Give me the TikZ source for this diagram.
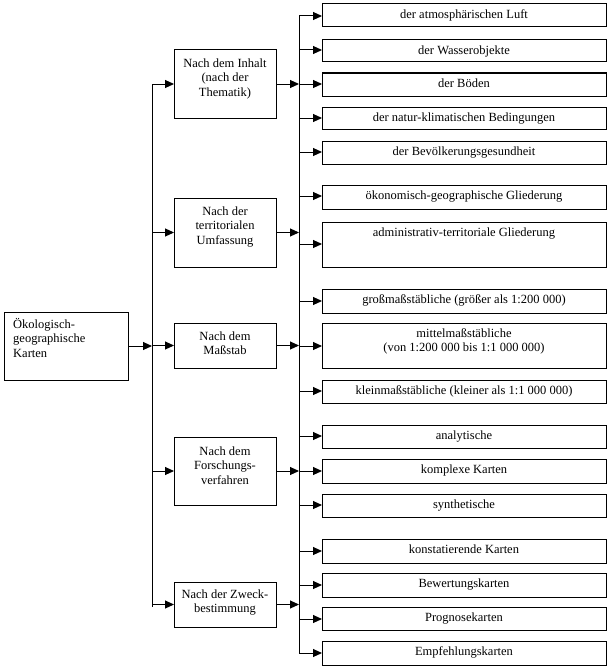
\documentclass[tikz,border=0pt]{standalone}
\usepackage{fontspec}
\setmainfont{Liberation Serif}
\usetikzlibrary{arrows.meta}
\begin{document}
\begin{tikzpicture}[x=1pt,y=-1pt,
  box/.style={draw,line width=1pt,inner sep=0pt,outer sep=0pt,anchor=north west},
  txt/.style={inner sep=0pt,anchor=north,align=center,font=\fontsize{12.5}{14.5}\selectfont},
  ltxt/.style={inner sep=0pt,anchor=north west,align=left,font=\fontsize{12.5}{14.5}\selectfont},
  bus/.style={line width=1pt},
  arr/.style={line width=1pt,-{Triangle[length=9pt,width=8pt]}},
]
\useasboundingbox (0,0) rectangle (611,669);
% left box
\node[box,minimum width=124pt,minimum height=68pt] (L) at (4,312) {};
\node[ltxt] (Lt) at (13,318) {\strut Ökologisch-\\geographische\\Karten};
% middle boxes
\foreach \n/\y/\h in {M1/50/68,M2/198/69,M3/323/45,M4/437/68,M5/582/45}{
  \node[box,minimum width=102pt,minimum height=\h pt] (\n) at (174,\y) {};
}
\node[txt] (M1t) at (225,50+17-10.15) {\strut Nach dem Inhalt\\(nach der\\Thematik)};
\node[txt] (M2t) at (225,198+17-10.15) {\strut Nach der\\territorialen\\Umfassung};
\node[txt] (M3t) at (225,323+17-10.15) {\strut Nach dem\\Maßstab};
\node[txt] (M4t) at (225,437+18-10.15) {\strut Nach dem\\Forschungs-\\verfahren};
\node[txt] (M5t) at (225,582+16-10.15) {\strut Nach der Zweck-\\bestimmung};
% right boxes
\foreach \n/\y/\h/\t in {
  R1/4/23/{der atmosphärischen Luft},
  R2/40/22/{der Wasserobjekte},
  R3/73/23/{der Böden},
  R4/107/22/{der natur-klimatischen Bedingungen},
  R5/141/23/{der Bevölkerungsgesundheit},
  R6/185/24/{ökonomisch-geographische Gliederung},
  R7/222/45/{administrativ-territoriale Gliederung},
  R8/289/24/{großmaßstäbliche (größer als 1:200 000)},
  R9/323/45/{mittelmaßstäbliche\\(von 1:200 000 bis 1:1 000 000)},
  R10/380/23/{kleinmaßstäbliche (kleiner als 1:1 000 000)},
  R11/425/23/{analytische},
  R12/459/24/{komplexe Karten},
  R13/494/23/{synthetische},
  R14/539/24/{konstatierende Karten},
  R15/573/24/{Bewertungskarten},
  R16/607/23/{Prognosekarten},
  R17/641/24/{Empfehlungskarten}}{
  \node[box,minimum width=284pt,minimum height=\h pt] (\n) at (322,\y) {};
  \node[txt] (t\n) at (464,\y+14-10.15) {\strut \t};
}
% buses
\coordinate (b1) at (152,346);
\coordinate (b1top) at (152,84);
\coordinate (b1bot) at (152,607);
\draw[bus] (b1top) -- (b1bot);
\draw[arr] (L.east |- b1) -- (b1);
\foreach \n in {M1,M2,M3,M4,M5}{
  \draw[arr] (b1 |- \n.west) -- (\n.west);
}
\coordinate (b2top) at (299,16);
\coordinate (b2bot) at (299,653);
\draw[bus] (b2top) -- (b2bot);
\foreach \n in {M1,M2,M3,M4,M5}{
  \draw[arr] (\n.east) -- (b2top |- \n.east);
}
\foreach \n/\y in {R1/16,R2/50,R3/84,R4/118,R5/152,R6/196,R7/244,R8/301,R9/346,R10/391,R11/436,R12/471,R13/505,R14/551,R15/585,R16/619,R17/653}{
  \coordinate (c\n) at (299,\y);
  \draw[arr] (c\n) -- (\n.west |- c\n);
}
\end{tikzpicture}
\end{document}
